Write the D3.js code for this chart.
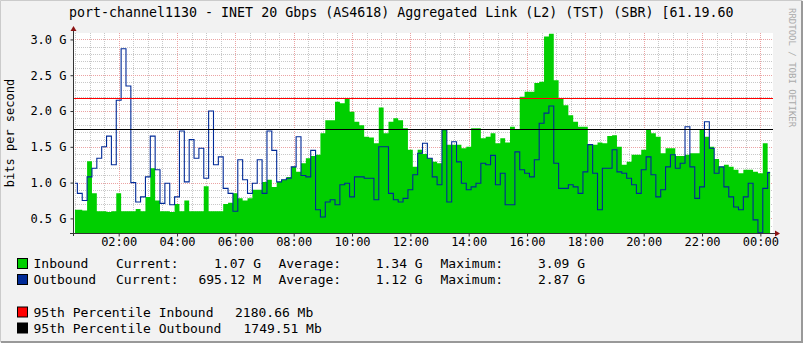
<!DOCTYPE html>
<html>
<head>
<meta charset="utf-8">
<script src="https://cdn.jsdelivr.net/npm/d3@7"></script>
<style>
    html, body { margin: 0; padding: 0; background: #f2f2f2; }
    svg { display: block; font-family: "DejaVu Sans Mono", monospace; }
</style>
</head>
<body>
<svg id="chart" width="803" height="343"></svg>
<script>
const titleText = 'port-channel1130 - INET 20 Gbps (AS4618) Aggregated Link (L2) (TST) (SBR) [61.19.60';
const yAxisLabel = 'bits per second';
const watermark = 'RRDTOOL / TOBI OETIKER';

// one sample every 10 minutes, first one at 00:30, values in Gbit/s
const sampleStart = new Date(2000, 0, 1, 0, 30);
const sampleStepMinutes = 10;

const inbound = [
    0.62, 0.62, 0.61, 1.30, 0.85, 0.60, 0.60, 0.59, 0.60, 0.85,
    0.60, 0.60, 0.60, 0.63, 0.60, 0.80, 1.20, 0.75, 0.60, 0.60,
    0.59, 0.70, 0.60, 0.75, 0.60, 0.60, 0.60, 0.95, 0.60, 0.60,
    0.60, 0.70, 0.72, 0.85, 0.78, 0.75, 0.78, 0.90, 0.90, 1.01,
    1.04, 0.94, 1.01, 1.04, 1.08, 1.22, 1.15, 1.27, 1.34, 1.37,
    1.39, 1.69, 1.87, 1.87, 2.13, 2.11, 2.18, 1.99, 1.85, 1.80,
    1.64, 1.63, 1.55, 2.05, 1.69, 1.85, 1.90, 1.87, 1.76, 1.46,
    1.22, 1.46, 1.40, 1.34, 1.29, 1.27, 1.74, 1.53, 1.53, 1.53,
    1.48, 1.50, 1.76, 1.76, 1.62, 1.64, 1.69, 1.55, 1.62, 1.56,
    1.78, 1.74, 2.20, 2.27, 2.27, 2.39, 2.41, 3.04, 3.08, 2.43,
    2.18, 2.08, 1.94, 1.85, 1.78, 1.78, 1.53, 1.53, 1.56, 1.55,
    1.65, 1.66, 1.50, 1.25, 1.29, 1.39, 1.39, 1.46, 1.74, 1.69,
    1.64, 1.41, 1.48, 1.48, 1.37, 1.37, 1.39, 1.41, 1.41, 1.74,
    1.64, 1.50, 1.33, 1.22, 1.25, 1.22, 1.18, 1.13, 1.18, 1.18,
    1.15, 1.13, 1.55, 1.15
];

const outbound = [
    0.99, 0.85, 0.75, 1.08, 1.20, 1.34, 1.50, 1.65, 1.25, 2.15,
    2.87, 2.35, 1.00, 0.73, 0.80, 1.08, 1.65, 1.18, 0.71, 0.99,
    0.69, 0.80, 1.72, 1.01, 1.60, 1.34, 1.48, 1.06, 2.00, 1.25,
    1.36, 0.92, 0.85, 0.60, 1.32, 1.04, 0.85, 0.99, 1.32, 0.85,
    1.72, 1.45, 1.01, 1.04, 1.06, 1.22, 1.64, 1.10, 1.08, 1.45,
    0.62, 0.52, 0.73, 0.76, 0.69, 0.97, 0.99, 0.80, 1.08, 1.08,
    1.06, 1.06, 0.76, 1.50, 1.50, 0.85, 0.76, 0.73, 0.78, 0.90,
    1.11, 1.41, 1.55, 1.34, 1.08, 0.97, 1.74, 0.73, 1.57, 1.29,
    0.99, 0.90, 0.94, 0.99, 1.27, 1.25, 1.38, 0.97, 1.13, 0.69,
    0.69, 1.43, 1.18, 1.13, 1.08, 1.32, 1.83, 1.97, 2.07, 1.27,
    0.92, 0.92, 0.97, 0.94, 0.85, 1.15, 1.53, 1.13, 0.62, 1.20,
    1.20, 1.46, 1.15, 1.13, 1.06, 0.97, 0.85, 1.18, 1.36, 1.11,
    0.80, 0.90, 1.22, 1.39, 1.20, 1.27, 1.78, 1.22, 0.78, 0.94,
    1.85, 1.48, 1.13, 1.22, 0.94, 0.80, 0.66, 0.62, 0.80, 0.99,
    0.48, 0.30, 0.92, 1.14
];

const yTickValues = [0.5, 1.0, 1.5, 2.0, 2.5, 3.0];
const xTickLabels = ['02:00', '04:00', '06:00', '08:00', '10:00', '12:00',
                     '14:00', '16:00', '18:00', '20:00', '22:00', '00:00'];

const seriesNames = ['Inbound', 'Outbound'];
const currentText = ['1.07 G', '695.12 M'];
const averageText = ['1.34 G', '1.12 G'];
const maximumText = ['3.09 G', '2.87 G'];

const percentileNames = ['95th Percentile Inbound', '95th Percentile Outbound'];
const percentileMb = [2180.66, 1749.51];

const seriesColors = ['#00cf00', '#002a97'];
const percentileColors = ['#ff0000', '#000000'];

const svg = d3.select('#chart');
const W = 803, H = 343;
const plot = { left: 73, top: 33, width: 700, height: 200 };

const tStart = new Date(2000, 0, 1, 0, 26);
const tEnd = new Date(2000, 0, 2, 0, 26);

const x = d3.scaleTime()
    .domain([tStart, tEnd])
    .range([plot.left, plot.left + plot.width]);

const y = d3.scaleLinear()
    .domain([0.296, 3.09])
    .range([plot.top + plot.height, plot.top]);

const times = inbound.map(function(d, i) {
    return d3.timeMinute.offset(sampleStart, i * sampleStepMinutes);
});

// background and frame
svg.append('rect').attr('width', W).attr('height', H).attr('fill', '#f2f2f2');
svg.append('path')
    .attr('d', 'M0.5,' + (H - 1) + 'V0.5H' + (W - 1))
    .attr('fill', 'none').attr('stroke', '#cbcbcb');
svg.append('path')
    .attr('d', 'M1,' + (H - 1) + 'H' + (W - 1) + 'V1')
    .attr('fill', 'none').attr('stroke', '#999999').attr('stroke-width', 2);

svg.append('rect')
    .attr('x', plot.left).attr('y', plot.top)
    .attr('width', plot.width).attr('height', plot.height)
    .attr('fill', '#ffffff');

function crisp(v) { return Math.round(v) + 0.5; }

// grid
const grid = svg.append('g').attr('stroke-dasharray', '1,1').attr('stroke-width', 1);

const minorX = d3.timeMinute.every(30).range(tStart, tEnd).filter(function(t) {
    return !(t.getMinutes() === 0 && t.getHours() % 2 === 0);
});
const majorX = d3.timeHour.every(2).range(tStart, tEnd);

grid.selectAll('.gx').data(minorX).enter().append('line')
    .attr('x1', function(d) { return crisp(x(d)); })
    .attr('x2', function(d) { return crisp(x(d)); })
    .attr('y1', plot.top).attr('y2', plot.top + plot.height)
    .attr('stroke', '#c8c8c8');

const minorY = d3.range(4, 31).map(function(i) { return i / 10; })
    .filter(function(v) { return Math.round(v * 10) % 5 !== 0; });

grid.selectAll('.gy').data(minorY).enter().append('line')
    .attr('x1', plot.left).attr('x2', plot.left + plot.width)
    .attr('y1', function(d) { return crisp(y(d)); })
    .attr('y2', function(d) { return crisp(y(d)); })
    .attr('stroke', '#c8c8c8');

grid.selectAll('.mx').data(majorX).enter().append('line')
    .attr('x1', function(d) { return crisp(x(d)); })
    .attr('x2', function(d) { return crisp(x(d)); })
    .attr('y1', plot.top).attr('y2', plot.top + plot.height)
    .attr('stroke', '#eba3a3');

grid.selectAll('.my').data(yTickValues).enter().append('line')
    .attr('x1', plot.left).attr('x2', plot.left + plot.width)
    .attr('y1', function(d) { return crisp(y(d)); })
    .attr('y2', function(d) { return crisp(y(d)); })
    .attr('stroke', '#eba3a3');

// data
svg.append('clipPath').attr('id', 'clip').append('rect')
    .attr('x', plot.left).attr('y', plot.top)
    .attr('width', plot.width).attr('height', plot.height);

const data = times.map(function(t, i) { return { t: t, inb: inbound[i], out: outbound[i] }; });

const area = d3.area()
    .curve(d3.curveStep)
    .x(function(d) { return x(d.t); })
    .y0(plot.top + plot.height)
    .y1(function(d) { return y(d.inb); });

const line = d3.line()
    .curve(d3.curveStep)
    .x(function(d) { return x(d.t); })
    .y(function(d) { return y(d.out); });

const g = svg.append('g').attr('clip-path', 'url(#clip)');
g.append('path').datum(data).attr('d', area).attr('fill', seriesColors[0]);
g.append('path').datum(data).attr('d', line)
    .attr('fill', 'none').attr('stroke', seriesColors[1]).attr('stroke-width', 1.1);

percentileMb.forEach(function(v, i) {
    svg.append('line')
        .attr('x1', plot.left).attr('x2', plot.left + plot.width)
        .attr('y1', crisp(y(v / 1000))).attr('y2', crisp(y(v / 1000)))
        .attr('stroke', percentileColors[i]).attr('stroke-width', 1);
});

// axes
const yAxis = svg.append('g')
    .attr('transform', 'translate(' + (plot.left + 0.5) + ',0)')
    .call(d3.axisLeft(y).tickValues(yTickValues).tickSize(3).tickPadding(4)
        .tickFormat(function(d) { return d.toFixed(1) + ' G'; }));
yAxis.select('.domain').remove();
yAxis.selectAll('text').style('font-size', '12px').attr('fill', '#000')
    .style('font-family', '"DejaVu Sans Mono", monospace');
yAxis.selectAll('line').attr('stroke', '#333');

const xAxis = svg.append('g')
    .attr('transform', 'translate(0,' + (plot.top + plot.height + 0.5) + ')')
    .call(d3.axisBottom(x).tickValues(majorX).tickSize(3)
        .tickFormat(function(d, i) { return xTickLabels[i]; }));
xAxis.select('.domain').remove();
xAxis.selectAll('text').style('font-size', '12px').attr('fill', '#000')
    .style('font-family', '"DejaVu Sans Mono", monospace')
    .attr('y', 12).attr('dy', null);
xAxis.selectAll('line').attr('stroke', '#333');

svg.append('line')
    .attr('x1', plot.left + 0.5).attr('x2', plot.left + 0.5)
    .attr('y1', plot.top + plot.height + 3).attr('y2', plot.top - 4)
    .attr('stroke', '#333');
svg.append('line')
    .attr('x1', plot.left - 3).attr('x2', plot.left + plot.width + 4)
    .attr('y1', plot.top + plot.height + 0.5).attr('y2', plot.top + plot.height + 0.5)
    .attr('stroke', '#333');

svg.append('path')
    .attr('d', 'M' + (plot.left - 2.5) + ',' + (plot.top - 2) + 'L' + (plot.left + 0.5) + ',' + (plot.top - 7) +
        'L' + (plot.left + 3.5) + ',' + (plot.top - 2) + 'Z')
    .attr('fill', '#8b1414');
svg.append('path')
    .attr('d', 'M' + (plot.left + plot.width + 2) + ',' + (plot.top + plot.height - 2.5) +
        'L' + (plot.left + plot.width + 7) + ',' + (plot.top + plot.height + 0.5) +
        'L' + (plot.left + plot.width + 2) + ',' + (plot.top + plot.height + 3.5) + 'Z')
    .attr('fill', '#8b1414');

// texts
svg.append('text')
    .attr('x', 69).attr('y', 17)
    .style('font-size', '13.3px')
    .text(titleText);

svg.append('text')
    .attr('transform', 'translate(13.5,' + (plot.top + plot.height / 2) + ') rotate(-90)')
    .attr('text-anchor', 'middle')
    .style('font-size', '12px')
    .text(yAxisLabel);

svg.append('text')
    .attr('transform', 'translate(789,8) rotate(90)')
    .style('font-size', '9px')
    .attr('fill', '#aaaaaa')
    .text(watermark);

// legend
const legendRows = [268, 284];
seriesNames.forEach(function(name, i) {
    const yy = legendRows[i];
    svg.append('rect').attr('x', 17.5).attr('y', yy - 9.5).attr('width', 10).attr('height', 10)
        .attr('fill', seriesColors[i]).attr('stroke', '#000').attr('stroke-width', 1);
    const t = svg.append('g').style('font-size', '13px');
    t.append('text').attr('x', 33.5).attr('y', yy).text(name);
    t.append('text').attr('x', 116).attr('y', yy).text('Current:');
    t.append('text').attr('x', 261).attr('y', yy).attr('text-anchor', 'end').text(currentText[i]);
    t.append('text').attr('x', 278.5).attr('y', yy).text('Average:');
    t.append('text').attr('x', 422.7).attr('y', yy).attr('text-anchor', 'end').text(averageText[i]);
    t.append('text').attr('x', 440.5).attr('y', yy).text('Maximum:');
    t.append('text').attr('x', 585).attr('y', yy).attr('text-anchor', 'end').text(maximumText[i]);
});

const pctRows = [316.5, 332.5];
const pctValueX = [235, 243.5];
percentileNames.forEach(function(name, i) {
    const yy = pctRows[i];
    svg.append('rect').attr('x', 17.5).attr('y', yy - 9.5).attr('width', 10).attr('height', 10)
        .attr('fill', percentileColors[i]).attr('stroke', '#000').attr('stroke-width', 1);
    const t = svg.append('g').style('font-size', '13px');
    t.append('text').attr('x', 33.5).attr('y', yy).text(name);
    t.append('text').attr('x', pctValueX[i]).attr('y', yy).text(d3.format('.2f')(percentileMb[i]) + ' Mb');
});
</script>
</body>
</html>
